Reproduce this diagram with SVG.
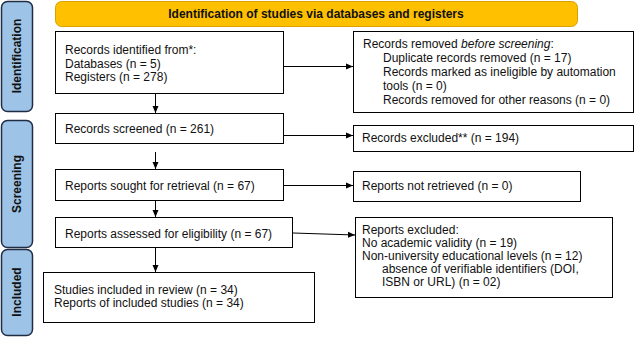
<svg xmlns="http://www.w3.org/2000/svg" width="636" height="338" viewBox="0 0 636 338">
<style>
.box{fill:#fff;stroke:#000;stroke-width:1}
.tab{fill:#9DC3E6;stroke:#1F2D44;stroke-width:1.5}
.t{font-family:"Liberation Sans",Arial,sans-serif;font-size:12px;fill:#111}
.tb{font-family:"Liberation Sans",Arial,sans-serif;font-size:12px;font-weight:bold;fill:#111}
.c{stroke:#000;stroke-width:1;fill:none}
</style>
<defs>
<marker id="ah" markerWidth="8" markerHeight="8" refX="7" refY="4" orient="auto" markerUnits="userSpaceOnUse">
<path d="M0,1 L7,4 L0,7 Z" fill="#000"/>
</marker>
</defs>
<rect width="636" height="338" fill="#fff"/>
<g id="header">
<rect x="55.5" y="1.5" width="522" height="25" rx="6" fill="#FFC000" stroke="#D9A000" stroke-width="1"/>
<text class="tb" x="316" y="18" text-anchor="middle">Identification of studies via databases and registers</text>
</g>
<g id="tab-identification">
<rect class="tab" x="1.5" y="1.5" width="31" height="110" rx="6"/>
<text class="tb" transform="translate(21,56) rotate(-90)" text-anchor="middle">Identification</text>
</g>
<g id="tab-screening">
<rect class="tab" x="1.5" y="120.5" width="31" height="127" rx="6"/>
<text class="tb" transform="translate(21,184) rotate(-90)" text-anchor="middle">Screening</text>
</g>
<g id="tab-included">
<rect class="tab" x="1.5" y="249.5" width="31" height="86" rx="6"/>
<text class="tb" transform="translate(21,292) rotate(-90)" text-anchor="middle">Included</text>
</g>
<g id="identified">
<rect class="box" x="55.5" y="31.5" width="228" height="62"/>
<text class="t" x="65" y="54">Records identified from*:</text>
<text class="t" x="65" y="67.5">Databases (n = 5)</text>
<text class="t" x="65" y="81">Registers (n = 278)</text>
</g>
<g id="removed">
<rect class="box" x="353.5" y="31.5" width="280" height="81"/>
<text class="t" x="363" y="48">Records removed <tspan font-style="italic">before screening</tspan>:</text>
<text class="t" x="383" y="62">Duplicate records removed (n = 17)</text>
<text class="t" x="383" y="76">Records marked as ineligible by automation</text>
<text class="t" x="383" y="90">tools (n = 0)</text>
<text class="t" x="383" y="104">Records removed for other reasons (n = 0)</text>
</g>
<g id="screened">
<rect class="box" x="55.5" y="113.5" width="228" height="30"/>
<text class="t" x="65" y="133">Records screened (n = 261)</text>
</g>
<g id="excluded">
<rect class="box" x="353.5" y="125.5" width="280" height="26"/>
<text class="t" x="362" y="142">Records excluded** (n = 194)</text>
</g>
<g id="sought">
<rect class="box" x="55.5" y="169.5" width="228" height="31"/>
<text class="t" x="65" y="189.5">Reports sought for retrieval (n = 67)</text>
</g>
<g id="notretrieved">
<rect class="box" x="353.5" y="171.5" width="227" height="30"/>
<text class="t" x="362" y="190">Reports not retrieved (n = 0)</text>
</g>
<g id="assessed">
<rect class="box" x="55.5" y="217.5" width="237" height="30"/>
<text class="t" x="65" y="237.5">Reports assessed for eligibility (n = 67)</text>
</g>
<g id="reportsexcluded">
<rect class="box" x="355.5" y="217.5" width="257" height="80"/>
<text class="t" x="362" y="234">Reports excluded:</text>
<text class="t" x="362" y="247">No academic validity (n = 19)</text>
<text class="t" x="362" y="260">Non-university educational levels (n = 12)</text>
<text class="t" x="382" y="273">absence of verifiable identifiers (DOI,</text>
<text class="t" x="382" y="286">ISBN or URL) (n = 02)</text>
</g>
<g id="included">
<rect class="box" x="43.5" y="272.5" width="271" height="50"/>
<text class="t" x="54" y="294">Studies included in review (n = 34)</text>
<text class="t" x="54" y="307">Reports of included studies (n = 34)</text>
</g>
<g id="connectors">
<line class="c" x1="155.5" y1="94" x2="155.5" y2="113" marker-end="url(#ah)"/>
<line class="c" x1="155.5" y1="152" x2="155.5" y2="169" marker-end="url(#ah)"/>
<line class="c" x1="155.5" y1="201" x2="155.5" y2="217" marker-end="url(#ah)"/>
<line class="c" x1="155.5" y1="248" x2="155.5" y2="272" marker-end="url(#ah)"/>
<line class="c" x1="284" y1="66.5" x2="353" y2="66.5" marker-end="url(#ah)"/>
<line class="c" x1="284" y1="135.5" x2="353" y2="135.5" marker-end="url(#ah)"/>
<line class="c" x1="284" y1="185.5" x2="353" y2="185.5" marker-end="url(#ah)"/>
<line class="c" x1="293" y1="233" x2="355" y2="235" marker-end="url(#ah)"/>
</g>
</svg>
